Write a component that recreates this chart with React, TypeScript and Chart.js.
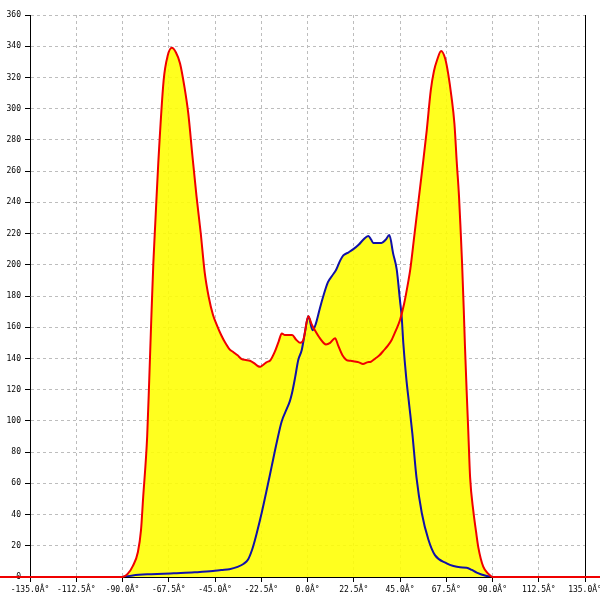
import { FC, useEffect, useRef } from 'react';
import Chart, { ChartConfiguration } from 'chart.js/auto';

// red curve (drawn across the whole width, zero outside -90..90)
const redAngles = [
  -180, -90, -87.5, -85, -82.5, -81, -80, -78, -77, -76, -75, -74, -72.6, -70, -68, -66, -64, -62,
  -60, -58, -56, -54, -52, -50, -48, -46, -44, -42, -40, -38, -36, -34, -32, -30, -28, -26, -24,
  -23, -22, -20, -18, -16, -14, -12.5, -11, -9, -7.5, -5.5, -3.5, -2, 0.4, 2, 3.6, 6, 9, 11, 13.4,
  15, 17, 19, 21, 23, 25, 27, 29, 31, 33, 35, 37, 39, 41, 43, 45, 47, 49, 50, 52, 54, 56, 58, 60,
  61.5, 63, 65, 67, 68.5, 70, 71.5, 72.6, 73.7, 74.5, 75.2, 76, 76.6, 77.4, 78.2, 79.1, 80.7, 82,
  83.1, 85.5, 88, 90, 180,
];
const redValues = [
  0, 0, 2, 7, 16, 30, 50, 90, 126, 165, 201, 228, 265, 318, 334, 339, 336, 329,
  315, 297, 270, 244, 221, 195, 179, 168, 161, 155, 150, 146, 144, 142, 139.5, 139, 138.5, 137, 135,
  134.7, 135.5, 137.5, 139, 144, 151, 156, 155, 155, 155, 152, 150, 152, 167, 162, 158, 153, 149, 150, 153,
  148, 142, 139, 138.5, 138, 137.5, 136.5, 137.5, 138, 140, 142, 145, 148, 152, 158, 164.6, 175, 189, 197, 219, 241, 263, 286, 312,
  324, 331, 337, 332, 322, 308, 290, 266, 244, 222, 201, 172, 148, 120, 94, 64, 42, 29,
  19, 6.6, 2, 0, 0,
];

// blue curve
const blueAngles = [
  -90, -85, -78, -70, -65, -55, -46, -42, -38, -34, -31, -29, -27, -25.5, -24.7, -22.3, -19.8, -17.4,
  -15, -12.6, -10, -8.5, -7.5, -6, -4.5, -2.8, -1.2, 0.4, 2.5, 4, 6, 7.7, 10, 12, 14, 16, 17.4, 20,
  22.3, 25, 27.1, 29.6, 31, 32, 36, 38, 39.8, 41.7, 43.4, 45, 45.8, 46.6, 48, 49.5, 51, 53, 55.6, 58.8,
  62, 67.7, 71, 74.2, 77.4, 80, 82.3, 87.2, 90,
];
const blueValues = [
  0, 1, 1.7, 2.1, 2.4, 3, 3.8, 4.5, 5, 6.5, 8.5, 11, 17.3, 24, 28, 41, 56, 71,
  86, 99.5, 108, 113, 118, 128, 139, 145.4, 157, 167, 158, 162, 172, 180, 189, 193, 197, 203, 206, 208,
  210, 213, 216, 218.5, 216, 214, 214, 216, 219, 207, 197, 177, 167, 150, 128, 110, 92, 64, 41, 24,
  14, 8.8, 7, 6.2, 6, 4.5, 2.8, 0.6, 0,
];

const xTicks = [-135, -112.5, -90, -67.5, -45, -22.5, 0, 22.5, 45, 67.5, 90, 112.5, 135];

const tickFont = { family: 'DejaVu Sans Mono', size: 8 };
const fillYellow = 'rgba(255,255,0,0.88)';

const AngleChart: FC = () => {
  const chartRef = useRef<HTMLCanvasElement | null>(null);
  const chartInstance = useRef<Chart | null>(null);

  useEffect(() => {
    if (chartRef.current) {
      const ctx = chartRef.current.getContext('2d');
      if (ctx) {
        if (chartInstance.current) {
          chartInstance.current.destroy();
        }

        chartInstance.current = new Chart(ctx, {
          type: 'line',
          data: {
            datasets: [
              {
                label: 'red',
                data: redAngles.map((a, i) => ({ x: a, y: redValues[i] })),
                borderColor: '#f00000',
                backgroundColor: fillYellow,
                borderWidth: 2,
                fill: 'origin',
                pointRadius: 0,
                cubicInterpolationMode: 'monotone',
                clip: false,
              },
              {
                label: 'blue',
                data: blueAngles.map((a, i) => ({ x: a, y: blueValues[i] })),
                borderColor: '#1010a8',
                backgroundColor: fillYellow,
                borderWidth: 2,
                // only fill the part that rises above the red curve
                fill: { target: 0, above: fillYellow, below: 'rgba(0,0,0,0)' },
                pointRadius: 0,
                cubicInterpolationMode: 'monotone',
              },
            ],
          },
          options: {
            animation: false,
            responsive: false,
            layout: { padding: { top: 15, left: 0, right: 0, bottom: 0 } },
            plugins: {
              legend: { display: false },
              tooltip: { enabled: false },
              filler: { drawTime: 'beforeDatasetsDraw' },
            },
            scales: {
              x: {
                type: 'linear',
                min: -135,
                max: 135,
                afterBuildTicks: (scale: any) => {
                  scale.ticks = xTicks.map((v) => ({ value: v }));
                },
                afterFit: (scale: any) => {
                  scale.height = 23;
                  scale.paddingLeft = 0;
                  scale.paddingRight = 0;
                },
                ticks: {
                  font: tickFont,
                  color: '#000',
                  padding: 3,
                  maxRotation: 0,
                  autoSkip: false,
                  callback: (v: any) => Number(v).toFixed(1) + 'Â°',
                },
                grid: {
                  color: '#bdbdbd',
                  tickColor: '#000',
                  tickLength: 5,
                  tickBorderDash: [],
                },
                border: { display: true, color: '#000', dash: [3, 3] },
              },
              y: {
                type: 'linear',
                min: 0,
                max: 360,
                afterFit: (scale: any) => {
                  scale.width = 30;
                },
                ticks: {
                  stepSize: 20,
                  font: tickFont,
                  color: '#000',
                  padding: 4,
                },
                grid: {
                  color: '#bdbdbd',
                  tickColor: '#000',
                  tickLength: 5,
                  tickBorderDash: [],
                },
                border: { display: true, color: '#000', width: 1, dash: [3, 3] },
              },
              y2: {
                type: 'linear',
                position: 'right',
                min: 0,
                max: 360,
                afterFit: (scale: any) => {
                  scale.width = 15;
                },
                ticks: { display: false },
                grid: { drawOnChartArea: false, drawTicks: false },
                border: { display: true, color: '#000', width: 1 },
              },
            },
          },
        } as ChartConfiguration);
      }
    }

    return () => {
      if (chartInstance.current) {
        chartInstance.current.destroy();
      }
    };
  }, []);

  return (
    <div style={{ position: 'absolute', left: 0, top: 0, width: 600, height: 600 }}>
      <canvas ref={chartRef} width={600} height={600} />
    </div>
  );
};

export default function App() {
  return <AngleChart />;
}
